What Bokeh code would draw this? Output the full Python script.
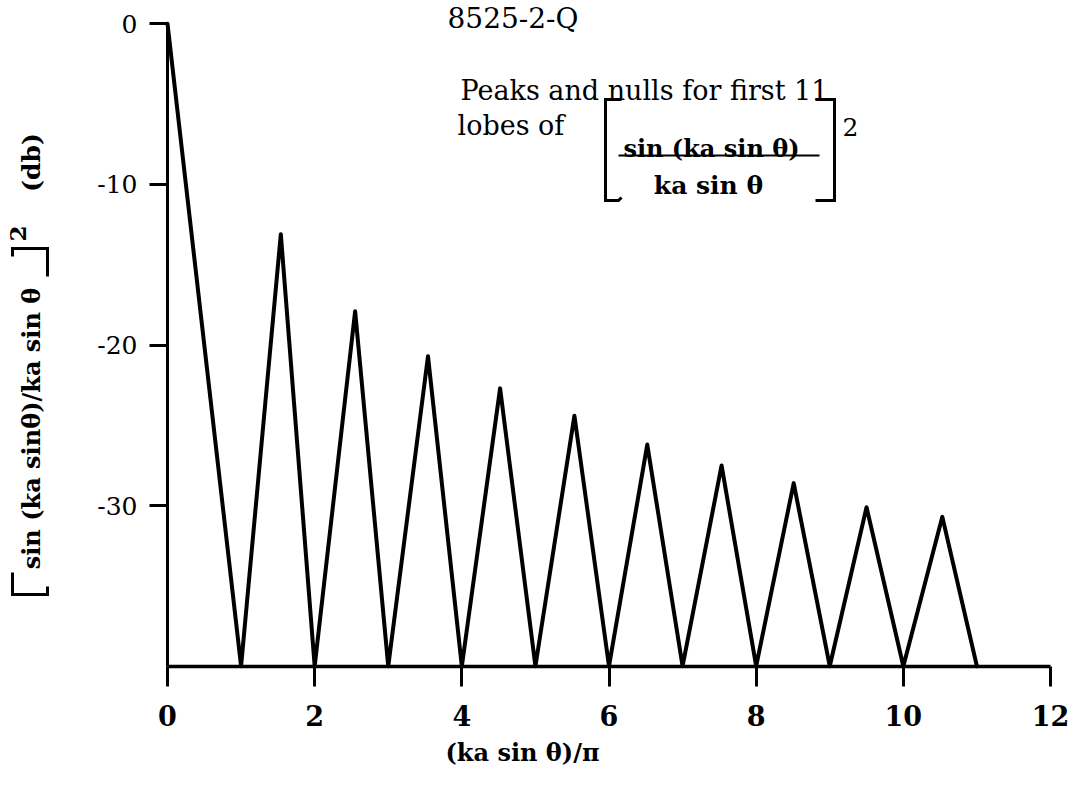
import math
from bokeh.plotting import figure
from bokeh.models import LinearAxis, FixedTicker, Range1d, Label
from bokeh.embed import file_html
from bokeh.resources import INLINE

# Peaks and nulls of the first 11 lobes of [sin(ka sin θ)/(ka sin θ)]^2, in dB
main_lobe_x = [0]
main_lobe_db = [0]
null_x = [1, 2, 3, 4, 5, 6, 7, 8, 9, 10, 11]
peak_x = [1.54, 2.55, 3.54, 4.52, 5.53, 6.52, 7.53, 8.51, 9.50, 10.53]
peak_db = [-13.1, -17.9, -20.7, -22.7, -24.4, -26.2, -27.5, -28.6, -30.1, -30.7]
floor_db = -40

x_ticks = [0, 2, 4, 6, 8, 10, 12]
x_tick_labels = ["0", "2", "4", "6", "8", "10", "12"]
y_ticks = [0, -10, -20, -30]
y_tick_labels = ["0", "-10", "-20", "-30"]

# page and plotting-area geometry (pixels)
W, H = 1071, 787
LEFT, RIGHT, TOP, BOTTOM = 167.0, 1050.0, 23.3, 665.7
sx = (RIGHT - LEFT) / (x_ticks[-1] - x_ticks[0])
sy = (BOTTOM - TOP) / (0 - floor_db)
x_range = Range1d(-LEFT / sx, (W - LEFT) / sx)
y_range = Range1d(-(H - TOP) / sy, TOP / sy)


def X(px):
    return x_range.start + px / sx


def Y(py):
    return y_range.end - py / sy


# one continuous polyline: main lobe, then null -> peak -> null ...
xs = list(main_lobe_x) + [null_x[0]]
ys = list(main_lobe_db) + [floor_db]
for px_, pdb, nx in zip(peak_x, peak_db, null_x[1:]):
    xs += [px_, nx]
    ys += [pdb, floor_db]

p = figure(width=W, height=H, x_range=x_range, y_range=y_range,
           x_axis_type=None, y_axis_type=None, min_border=0,
           toolbar_location=None, output_backend="svg",
           outline_line_color=None, background_fill_color="white",
           border_fill_color="white")
p.grid.visible = False

p.line(xs, ys, line_color="black", line_width=4, line_join="round", line_cap="round")

SERIF = "DejaVu Serif"

xaxis = LinearAxis(fixed_location=floor_db, bounds=(x_ticks[0], x_ticks[-1]),
                   ticker=FixedTicker(ticks=x_ticks),
                   major_label_overrides=dict(zip(x_ticks, x_tick_labels)),
                   axis_line_width=3.5, axis_line_color="black",
                   major_tick_line_width=3, major_tick_line_color="black",
                   major_tick_out=20, major_tick_in=0,
                   minor_tick_out=0, minor_tick_in=0,
                   major_label_standoff=19,
                   major_label_text_font=SERIF,
                   major_label_text_font_style="bold",
                   major_label_text_font_size="27px",
                   major_label_text_color="black")
p.add_layout(xaxis, "below")

yaxis = LinearAxis(fixed_location=0, bounds=(floor_db, 0),
                   ticker=FixedTicker(ticks=y_ticks),
                   major_label_overrides=dict(zip(y_ticks, y_tick_labels)),
                   axis_line_width=3, axis_line_color="black",
                   major_tick_line_width=3, major_tick_line_color="black",
                   major_tick_out=18, major_tick_in=0,
                   minor_tick_out=0, minor_tick_in=0,
                   major_label_standoff=12,
                   major_label_text_font=SERIF,
                   major_label_text_font_size="25px",
                   major_label_text_color="black")
p.add_layout(yaxis, "left")


def label(px, py, text, size, style="normal", align="left", baseline="alphabetic", angle=0.0):
    p.add_layout(Label(x=X(px), y=Y(py), text=text, text_font=SERIF,
                       text_font_size=f"{size}px", text_font_style=style,
                       text_align=align, text_baseline=baseline, angle=angle,
                       text_color="black"))


def bracket_line(pts, width=3):
    p.line([X(a) for a, b in pts], [Y(b) for a, b in pts],
           line_color="black", line_width=width, line_join="miter")


# x-axis title
label(522, 752, "(ka sin θ)/π", 24, style="bold", align="center", baseline="middle")

# rotated y-axis title with its brackets
label(31, 428, "sin (ka sinθ)/ka sin θ", 24, style="bold", align="center",
      baseline="middle", angle=math.pi / 2)
label(17, 233, "2", 23, style="bold", align="center", baseline="middle", angle=math.pi / 2)
label(31, 162, "(db)", 25, style="bold", align="center", baseline="middle", angle=math.pi / 2)
bracket_line([(12, 572), (12, 594), (47, 594), (47, 586)])
bracket_line([(12, 256), (12, 248), (47, 248), (47, 276)])

# annotation block
label(447, 18, "8525-2-Q", 28)
label(460, 90, "Peaks and nulls for first 11", 27)
label(457, 125, "lobes of", 27)
label(711, 148, "sin (ka sin θ)", 24, style="bold", align="center")
label(708, 185, "ka sin θ", 25, style="bold", align="center")
bracket_line([(618, 155), (819, 155)], width=2)
bracket_line([(621, 99), (605, 99), (605, 200), (618, 200), (621, 197)])
bracket_line([(815, 99), (834, 99), (834, 200), (815, 200)])
label(842, 126, "2", 25)

with open("out.html", "w") as f:
    f.write(file_html(p, INLINE))
